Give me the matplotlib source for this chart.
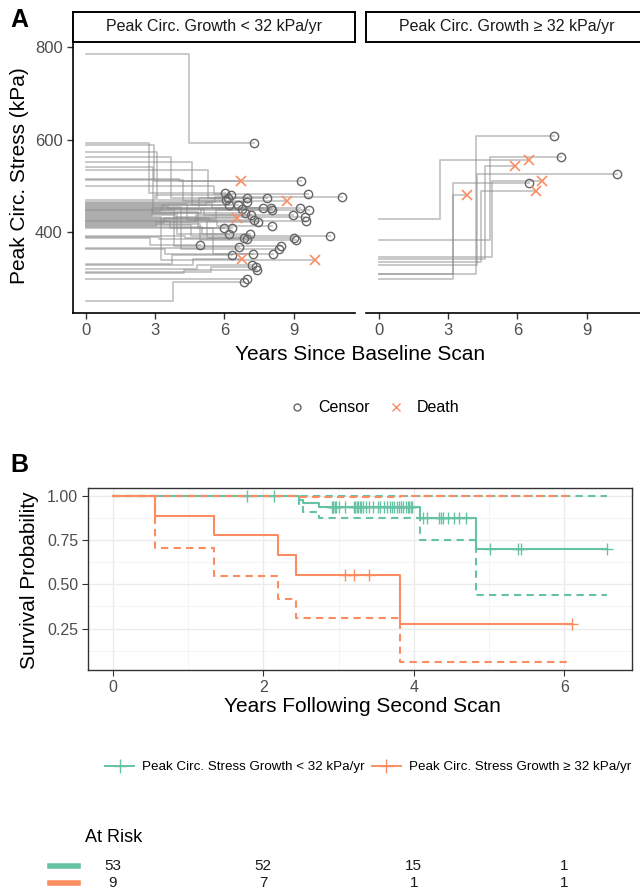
import numpy as np
import matplotlib
matplotlib.use('Agg')
import matplotlib.pyplot as plt
from matplotlib.lines import Line2D
from matplotlib.ticker import MultipleLocator, FixedLocator
import matplotlib.transforms as mtrans

plt.rcParams['font.family'] = ['Liberation Sans', 'DejaVu Sans']

GREEN = '#66C2A5'
ORANGE = '#FC8D62'
GREY30 = '#4D4D4D'

# ---- panel A, growth < 32 kPa/yr : baseline stress, 2nd scan (time, stress), end of follow-up
lo_base = [785, 588, 515, 592, 499, 468, 465, 561, 533, 452,
           572, 512, 458, 446, 551, 440, 462, 434, 456, 428,
           444, 540, 420, 450, 436, 418, 460, 430, 412, 422,
           442, 424, 410, 438, 414, 390, 426, 388, 416, 386,
           448, 365, 454, 363, 408, 330, 327, 432, 318, 313,
           310, 298, 250]
lo_t2 = [4.45, 2.95, 4.05, 2.72, 5.55, 3.0, 5.6, 3.7, 5.3, 4.9,
         3.1, 4.2, 5.2, 3.3, 4.6, 5.0, 5.45, 2.85, 3.55, 5.65,
         3.2, 2.9, 4.75, 5.1, 3.85, 3.4, 4.4, 5.35, 3.05, 5.7,
         4.85, 3.65, 5.05, 3.95, 4.55, 4.3, 5.25, 3.15, 4.95, 2.78,
         3.8, 5.15, 4.1, 3.45, 5.5, 3.75, 4.65, 3.25, 4.8, 5.4,
         4.25, 2.75, 3.78]
lo_stress2 = [592, 509, 509, 484, 481, 480, 475, 474, 474, 472,
              468, 467, 464, 458, 457, 452, 452, 452, 450, 446,
              446, 440, 437, 435, 432, 429, 426, 424, 420, 412,
              408, 408, 394, 394, 391, 386, 386, 383, 381, 370,
              369, 367, 363, 352, 352, 349, 340, 339, 327, 324,
              316, 298, 291]
lo_tend = [7.29, 9.31, 6.71, 6.02, 9.60, 6.28, 11.1, 7.00, 7.86, 6.15,
           6.06, 8.69, 7.00, 6.20, 6.57, 7.65, 8.00, 9.28, 6.78, 8.08,
           9.67, 6.90, 7.14, 8.99, 9.48, 6.54, 7.29, 9.52, 7.45, 8.08,
           5.99, 6.35, 6.18, 7.11, 10.58, 6.85, 9.02, 7.00, 9.09, 4.95,
           8.44, 6.64, 8.37, 8.12, 7.26, 6.35, 6.75, 9.91, 7.19, 7.36,
           7.40, 7.00, 6.83]
lo_death = [0, 0, 1, 0, 0, 0, 0, 0, 0, 0,
            0, 1, 0, 0, 0, 0, 0, 0, 0, 0,
            0, 0, 0, 0, 0, 1, 0, 0, 0, 0,
            0, 0, 0, 0, 0, 0, 0, 0, 0, 0,
            0, 0, 0, 0, 0, 0, 1, 1, 0, 0,
            0, 0, 0]

# ---- panel A, growth >= 32 kPa/yr
hi_base = [428, 309, 298, 307, 327, 334.5, 339.5, 381, 345]
hi_t2 = [2.67, 3.22, 3.22, 4.19, 4.24, 4.41, 4.58, 4.81, 4.88]
hi_stress2 = [556, 478.5, 505, 608, 525, 488, 543, 562, 509]
hi_tend = [6.50, 3.80, 6.50, 7.59, 10.33, 6.82, 5.91, 7.90, 7.08]
hi_death = [1, 1, 0, 0, 0, 1, 1, 0, 1]

# ---- panel B, years following second scan
lo_event_times = [2.48, 2.53, 2.74, 4.08, 4.83]
lo_censor_times = [1.79, 2.14,
                   2.91, 2.92, 2.93, 2.95, 2.97, 3.01, 3.08, 3.20, 3.22, 3.24,
                   3.26, 3.28, 3.30, 3.33, 3.36, 3.40, 3.46, 3.52, 3.55, 3.60,
                   3.64, 3.68, 3.71, 3.74, 3.77, 3.80, 3.83, 3.86, 3.89, 3.92,
                   3.94, 3.96, 3.98,
                   4.12, 4.18, 4.33, 4.36, 4.39, 4.46, 4.53, 4.60, 4.69,
                   5.01, 5.38, 5.42, 6.57]
hi_event_times = [0.56, 1.35, 2.19, 2.43, 3.81]
hi_censor_times = [3.09, 3.21, 3.40, 6.10]

risk_ticks = [0, 2, 4, 6]
legend_lo = 'Peak Circ. Stress Growth < 32 kPa/yr'
legend_hi = 'Peak Circ. Stress Growth \u2265 32 kPa/yr'


def km(ev, ce):
    ev = np.asarray(ev, float)
    allt = np.concatenate([ev, np.asarray(ce, float)])
    s, v = 1.0, 0.0
    xs, ss, los, his = [0.0], [1.0], [1.0], [1.0]
    for t in np.unique(ev):
        n = np.sum(allt >= t)
        d = np.sum(ev == t)
        s *= 1 - d / n
        if n > d:
            v += d / (n * (n - d))
        se = np.sqrt(v)
        xs.append(t); ss.append(s)
        los.append(s * np.exp(-1.96 * se)); his.append(min(1.0, s * np.exp(1.96 * se)))
    xs.append(allt.max()); ss.append(ss[-1]); los.append(los[-1]); his.append(his[-1])
    return np.array(xs), np.array(ss), np.array(los), np.array(his), allt


W, H = 640, 894
fig = plt.figure(figsize=(6.4, 8.94), dpi=100)


def px_axes(x0, y0, x1, y1):
    return fig.add_axes([x0 / W, 1 - y1 / H, (x1 - x0) / W, (y1 - y0) / H])


# ================= panel A
axL = px_axes(73, 42, 355, 313)
axR = px_axes(366, 42, 648, 313)
tmax = max(max(lo_tend), max(hi_tend))
ymin = min(min(lo_base), min(hi_base))
ymax = max(max(lo_base), max(hi_base))
for ax, base, t2, s2, tend, death in [(axL, lo_base, lo_t2, lo_stress2, lo_tend, lo_death),
                                      (axR, hi_base, hi_t2, hi_stress2, hi_tend, hi_death)]:
    for b, t, s, e in zip(base, t2, s2, tend):
        ax.plot([0, t, t, e], [b, b, s, s], color='#8C8C8C', alpha=0.5, lw=1.3)
    death = np.array(death, bool)
    tend = np.array(tend); s2 = np.array(s2)
    ax.plot(tend[~death], s2[~death], ls='none', marker='o', mfc='none', mec='#666666', ms=6, mew=1)
    ax.plot(tend[death], s2[death], ls='none', marker='x', color=ORANGE, ms=6.5, mew=1.2)
    ax.set_xlim(-0.05 * tmax, 1.05 * tmax)
    ax.set_ylim(ymin - 0.05 * (ymax - ymin), ymax + 0.05 * (ymax - ymin))
    ax.set_xticks([0, 3, 6, 9])
    ax.set_yticks([400, 600, 800])
    for sp in ['top', 'right']:
        ax.spines[sp].set_visible(False)
    ax.spines['bottom'].set_linewidth(1.2)
    ax.spines['left'].set_linewidth(1.2)
    ax.tick_params(colors='#333333', labelcolor=GREY30, labelsize=12, length=4, width=1)
axR.spines['left'].set_visible(False)
axR.tick_params(axis='y', left=False, labelleft=False)

for x0, x1, label in [(73, 355, 'Peak Circ. Growth < 32 kPa/yr'),
                      (366, 648, 'Peak Circ. Growth \u2265 32 kPa/yr')]:
    st = px_axes(x0, 12, x1, 42)
    st.set_xticks([]); st.set_yticks([])
    for sp in st.spines.values():
        sp.set_linewidth(1.4)
    st.text(0.5, 0.5, label, ha='center', va='center', fontsize=11.5, color='#1A1A1A',
            transform=st.transAxes)

fig.text(20 / W, 1 - 176 / H, 'Peak Circ. Stress (kPa)', rotation=90, ha='center', va='center',
         fontsize=15)
fig.text(360 / W, 1 - 355 / H, 'Years Since Baseline Scan', ha='center', va='center', fontsize=15)
fig.text(10 / W, 1 - 20 / H, 'A', fontsize=18, fontweight='bold', va='center')

hA = [Line2D([], [], ls='none', marker='o', mfc='none', mec='#666666', ms=5, label='Censor'),
      Line2D([], [], ls='none', marker='x', color=ORANGE, ms=6, label='Death')]
fig.legend(handles=hA, loc='center', bbox_to_anchor=(372 / W, 1 - 408 / H), ncol=2,
           frameon=False, fontsize=11.5, handletextpad=0.5, columnspacing=0.9,
           handlelength=1.6)

# ================= panel B
axB = px_axes(88, 488, 632, 670)
curves = []
for ev, ce, col in [(lo_event_times, lo_censor_times, GREEN), (hi_event_times, hi_censor_times, ORANGE)]:
    xs, ss, los, his, allt = km(ev, ce)
    curves.append((xs, ss, los, his, allt, col))
    axB.plot(xs, ss, drawstyle='steps-post', color=col, lw=1.5)
    axB.plot(xs, los, drawstyle='steps-post', color=col, lw=1.5, ls=(0, (3.5, 2.5)))
    axB.plot(xs, his, drawstyle='steps-post', color=col, lw=1.5, ls=(0, (3.5, 2.5)))
    ce = np.asarray(ce)
    idx = np.searchsorted(xs[:-1], ce, side='right') - 1
    axB.plot(ce, ss[idx], ls='none', marker='+', color=col, ms=9, mew=1.0)

bmax = max(c[0].max() for c in curves)
bmin = min(c[2].min() for c in curves)
axB.set_xlim(-0.05 * bmax, 1.05 * bmax)
axB.set_ylim(bmin - 0.05 * (1 - bmin), 1 + 0.05 * (1 - bmin))
axB.set_xticks(risk_ticks)
axB.set_yticks([0.25, 0.5, 0.75, 1.0])
axB.set_yticklabels(['0.25', '0.50', '0.75', '1.00'])
axB.xaxis.set_minor_locator(MultipleLocator(1))
axB.yaxis.set_minor_locator(FixedLocator([0.125, 0.375, 0.625, 0.875]))
axB.grid(which='major', color='#EBEBEB', lw=1.0)
axB.grid(which='minor', color='#F2F2F2', lw=0.6)
axB.tick_params(which='minor', length=0)
axB.tick_params(colors='#333333', labelcolor=GREY30, labelsize=11.5, length=4, pad=3)
axB.set_axisbelow(True)
for sp in axB.spines.values():
    sp.set_color('#333333'); sp.set_linewidth(1.0)

fig.text(30 / W, 1 - 580 / H, 'Survival Probability', rotation=90, ha='center', va='center',
         fontsize=15)
fig.text(362 / W, 1 - 706 / H, 'Years Following Second Scan', ha='center', va='center', fontsize=15)
fig.text(10 / W, 1 - 465 / H, 'B', fontsize=18, fontweight='bold', va='center')

hB = [Line2D([], [], color=GREEN, marker='+', ms=10, lw=1.4, label=legend_lo),
      Line2D([], [], color=ORANGE, marker='+', ms=10, lw=1.4, label=legend_hi)]
fig.legend(handles=hB, loc='center', bbox_to_anchor=(368 / W, 1 - 767 / H), ncol=2,
           frameon=False, fontsize=9.6, handlelength=2.2, handletextpad=0.6, columnspacing=0.5)

# ================= number at risk
axT = px_axes(88, 855, 632, 894)
axT.set_xlim(axB.get_xlim())
axT.set_ylim(1.65, -0.65)
axT.axis('off')
keyT = mtrans.blended_transform_factory(fig.transFigure, axT.transData)
for row, (xs, ss, los, his, allt, col) in enumerate(curves):
    for t in risk_ticks:
        axT.text(t, row, str(int(np.sum(allt >= t))), ha='center', va='center', fontsize=11,
                 color='#1A1A1A')
    axT.add_line(Line2D([50 / W, 78 / W], [row, row], color=col, lw=4, transform=keyT, clip_on=False))
fig.text(85 / W, 1 - 838 / H, 'At Risk', ha='left', va='center', fontsize=13)

fig.savefig('out.png', dpi=100)
